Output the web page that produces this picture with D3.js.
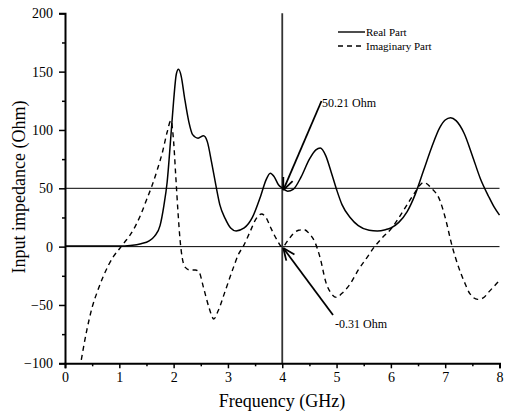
<!DOCTYPE html>
<html><head><meta charset="utf-8">
<script src="https://cdn.jsdelivr.net/npm/d3@7"></script>
<style>body{margin:0;background:#fff}svg{display:block}</style>
</head><body><svg id="c" width="508" height="416" font-family="'Liberation Serif', 'DejaVu Serif', serif"></svg>
<script>
const FONT="'Liberation Serif', 'Times New Roman', 'DejaVu Serif', serif";
const xTicks=[0,1,2,3,4,5,6,7,8];
const yTicks=[-100,-50,0,50,100,150,200];
const realF=[0,0.5,1.0,1.2,1.4,1.55,1.65,1.75,1.82,1.88,1.95,2.0,2.05,2.09,2.14,2.2,2.28,2.35,2.45,2.55,2.62,2.7,2.78,2.85,2.95,3.05,3.15,3.3,3.45,3.6,3.7,3.78,3.85,3.93,4.0,4.1,4.2,4.35,4.5,4.62,4.7,4.8,4.9,5.0,5.1,5.25,5.4,5.6,5.75,5.9,6.0,6.15,6.3,6.45,6.6,6.75,6.9,7.0,7.1,7.2,7.35,7.5,7.65,7.8,7.9,8.0];
const realV=[0.5,0.5,0.5,1,2.5,5,9,18,35,55,95,125,148,152,146,128,107,96,93,95,90,72,52,36,24,16,13.5,16,25,43,57,63,60,53,50.2,47.5,49,60,75,83,84.5,78,64,49,36,25,18,14,13.4,14.5,16,21,30,45,65,85,102,108.5,110.5,108,97,78,58,43,34,27];
const imagF=[0.3,0.4,0.5,0.6,0.7,0.8,0.9,1.0,1.1,1.2,1.3,1.4,1.5,1.6,1.7,1.8,1.88,1.95,2.0,2.04,2.08,2.12,2.16,2.22,2.3,2.4,2.47,2.55,2.65,2.74,2.82,2.95,3.1,3.2,3.28,3.4,3.52,3.62,3.7,3.8,3.9,4.0,4.1,4.2,4.3,4.4,4.5,4.6,4.7,4.8,4.9,5.0,5.1,5.25,5.4,5.55,5.7,5.85,6.0,6.15,6.3,6.45,6.6,6.75,6.9,7.0,7.13,7.25,7.35,7.45,7.6,7.7,7.8,7.9,8.0];
const imagV=[-97,-72,-52,-38,-26,-16,-8,-2,4,10,18,28,40,52,66,82,98,108,90,60,30,5,-10,-18,-20,-20,-22,-35,-52,-62,-55,-38,-18,-6,0,12,24,28,25,15,6,-0.31,5,11,14,14.6,11,4,-10,-30,-40,-43.5,-40,-32,-20,-10,0,8,15,25,36,47,55,50,40,25,0,-18,-30,-40,-45.2,-44,-39,-34,-29];
const seriesNames=["Real Part","Imaginary Part"];
const refLines=[0,50];
const markF=4;
const notes=[{label:"50.21 Ohm",f:4,v:50.21},{label:"-0.31 Ohm",f:4,v:-0.31}];

const svg=d3.select("#c");
const x=d3.scaleLinear().domain([0,8]).range([65,499.5]);
const y=d3.scaleLinear().domain([-100,200]).range([363.3,13.3]);

svg.selectAll(".ref").data(refLines).enter().append("line")
  .attr("x1",x(0)).attr("x2",x(8)).attr("y1",d=>y(d)).attr("y2",d=>y(d))
  .attr("stroke","#000").attr("stroke-width",1);
svg.append("line").attr("x1",x(markF)).attr("x2",x(markF)).attr("y1",y(200)).attr("y2",y(-100))
  .attr("stroke","#333").attr("stroke-width",1.8);

const line=d3.line().curve(d3.curveMonotoneX);
svg.append("path").attr("d",line(realF.map((f,i)=>[x(f),y(realV[i])])))
  .attr("fill","none").attr("stroke","#000").attr("stroke-width",1.5);
svg.append("path").attr("d",line(imagF.map((f,i)=>[x(f),y(imagV[i])])))
  .attr("fill","none").attr("stroke","#000").attr("stroke-width",1.4).attr("stroke-dasharray","5,4");

const xAx=svg.append("g").attr("transform",`translate(0,${y(-100)})`)
  .call(d3.axisBottom(x).tickValues(xTicks).tickFormat(d3.format("d")).tickSize(5).tickPadding(4));
const xMinor=svg.append("g").attr("transform",`translate(0,${y(-100)})`)
  .call(d3.axisBottom(x).tickValues(xTicks.slice(0,-1).map(d=>d+0.5)).tickFormat("").tickSize(3));
const yAx=svg.append("g").attr("transform",`translate(${x(0)},0)`)
  .call(d3.axisLeft(y).tickValues(yTicks).tickFormat(d3.format("d")).tickSize(6).tickPadding(6));
const yMinor=svg.append("g").attr("transform",`translate(${x(0)},0)`)
  .call(d3.axisLeft(y).tickValues(yTicks.slice(0,-1).map(d=>d+25)).tickFormat("").tickSize(3));
[xAx,xMinor,yAx,yMinor].forEach(g=>{
  g.attr("font-family",FONT).attr("font-size",14);
  g.select(".domain").attr("stroke","#000").attr("stroke-width",2);
  g.selectAll(".tick line").attr("stroke","#000").attr("stroke-width",1.5);
  g.selectAll("text").attr("fill","#000");
});
xMinor.select(".domain").remove(); yMinor.select(".domain").remove();

function txt(x0,y0,s,size){return svg.append("text").attr("x",x0).attr("y",y0).attr("font-family",FONT).attr("font-size",size).attr("fill","#000").text(s);}
txt(282,407,"Frequency (GHz)",18).attr("text-anchor","middle");
txt(0,0,"Input impedance (Ohm)",18).attr("text-anchor","middle").attr("transform","translate(25,187) rotate(-90)");

seriesNames.forEach((n,i)=>{
  const yy=32+i*14;
  svg.append("line").attr("x1",338).attr("x2",365).attr("y1",yy).attr("y2",yy)
    .attr("stroke","#000").attr("stroke-width",1.4).attr("stroke-dasharray",i?"5,4":null);
  txt(366,yy+4,n,11);
});

function arrow(x1,y1,x2,y2){
  svg.append("line").attr("x1",x1).attr("y1",y1).attr("x2",x2).attr("y2",y2).attr("stroke","#000").attr("stroke-width",1.8);
  const a=Math.atan2(y1-y2,x1-x2), L=13;
  [a-0.4,a+0.4].forEach(b=>svg.append("line").attr("x1",x2).attr("y1",y2)
    .attr("x2",x2+L*Math.cos(b)).attr("y2",y2+L*Math.sin(b)).attr("stroke","#000").attr("stroke-width",1.8));
}
arrow(321.5,101,x(notes[0].f)+1,y(notes[0].v)+2);
txt(322,107,notes[0].label,12);
arrow(333,315,x(notes[1].f)+1,y(notes[1].v)+1);
txt(335,328,notes[1].label,12);
</script></body></html>
